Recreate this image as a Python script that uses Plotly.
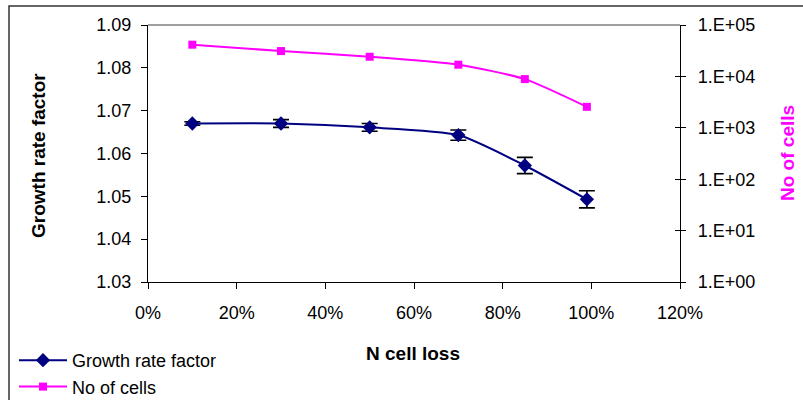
import plotly.graph_objects as go

# Data
cell_loss = [0.10, 0.30, 0.50, 0.70, 0.85, 0.99]
growth_rate = [1.0670, 1.0670, 1.0661, 1.0643, 1.0572, 1.0493]
growth_err = [0.0004, 0.0009, 0.0009, 0.0012, 0.0019, 0.0020]
no_of_cells = [41400, 31100, 24100, 16900, 8860, 2560]

y2_tickvals = [1, 10, 100, 1000, 10000, 100000]
y2_ticktext = ["1.E+00", "1.E+01", "1.E+02", "1.E+03", "1.E+04", "1.E+05"]

FONT = "Arial, Liberation Sans, sans-serif"
W, H = 803, 400
L, R, T, B = 148, 680, 25, 282
pw, ph = R - L, B - T

def px(x):
    return (x - L) / pw

def py(y):
    return (B - y) / ph

fig = go.Figure()

fig.add_trace(go.Scatter(
    x=cell_loss, y=growth_rate, name="Growth rate factor",
    mode="lines+markers",
    line=dict(color="#000080", width=2, shape="spline", smoothing=0.6),
    marker=dict(symbol="diamond", size=11, color="#000080"),
    error_y=dict(type="data", array=growth_err, visible=True,
                 color="black", thickness=1.6, width=8),
    yaxis="y",
))
fig.add_trace(go.Scatter(
    x=cell_loss, y=no_of_cells, name="No of cells",
    mode="lines+markers",
    line=dict(color="#FF00FF", width=2, shape="spline", smoothing=0.6),
    marker=dict(symbol="square", size=8, color="#FF00FF"),
    yaxis="y2",
))
# helper axis for crossing ticks on right axis (no data)
fig.add_trace(go.Scatter(x=[None], y=[None], yaxis="y3", showlegend=False,
                         hoverinfo="skip"))

fig.update_layout(
    width=W, height=H,
    margin=dict(l=L, r=W - R, t=T, b=H - B, autoexpand=False),
    paper_bgcolor="white", plot_bgcolor="white",
    font=dict(family=FONT, size=18, color="black"),
    showlegend=True,
    legend=dict(x=px(14), y=py(342), xanchor="left", yanchor="top",
                font=dict(size=18, family=FONT), bgcolor="rgba(0,0,0,0)",
                tracegroupgap=0, itemwidth=48),
    xaxis=dict(range=[0, 1.2], tickvals=[0, 0.2, 0.4, 0.6, 0.8, 1.0, 1.2],
               tickformat=".0%", showgrid=False, zeroline=False,
               showline=True, linecolor="black", linewidth=1.3,
               ticks="outside", ticklen=6, tickcolor="black",
               ticklabelstandoff=8, mirror=False),
    yaxis=dict(range=[1.03, 1.09], dtick=0.01, tickformat=".2f",
               showgrid=False, zeroline=False, showline=True,
               linecolor="black", linewidth=1.3, ticks="outside",
               ticklen=6, tickcolor="black", ticklabelstandoff=6),
    yaxis2=dict(type="log", range=[0, 5], tickvals=y2_tickvals,
                ticktext=y2_ticktext, overlaying="y", side="right",
                anchor="x", showgrid=False, zeroline=False, showline=True,
                linecolor="black", linewidth=1.3, ticks="outside",
                ticklen=5, tickcolor="black", ticklabelstandoff=8),
    yaxis3=dict(type="log", range=[0, 5], tickvals=y2_tickvals,
                overlaying="y", side="right", anchor="x",
                showgrid=False, zeroline=False, showline=False,
                showticklabels=False, ticks="inside", ticklen=5,
                tickcolor="black"),
    shapes=[
        dict(type="line", xref="paper", yref="paper", x0=0, x1=1, y0=1, y1=1,
             line=dict(color="#808080", width=1.3), layer="below"),
        dict(type="rect", xref="paper", yref="paper",
             x0=px(9), x1=px(W + 20), y0=py(H + 20), y1=py(6),
             line=dict(color="#333333", width=1.5), layer="below"),
    ],
    annotations=[
        dict(text="<b>Growth rate factor</b>", textangle=-90,
             x=px(38), y=py(156), xref="paper", yref="paper",
             xanchor="center", yanchor="middle",
             showarrow=False, font=dict(size=19, family=FONT, color="black")),
        dict(text="<b>No of cells</b>", textangle=-90,
             x=px(787), y=py(153), xref="paper", yref="paper",
             xanchor="center", yanchor="middle",
             showarrow=False, font=dict(size=19, family=FONT, color="#FF00FF")),
        dict(text="<b>N cell loss</b>",
             x=px(413), y=py(353), xref="paper", yref="paper",
             xanchor="center", yanchor="middle",
             showarrow=False, font=dict(size=19, family=FONT, color="black")),
    ],
)

fig.write_html("out.html")
